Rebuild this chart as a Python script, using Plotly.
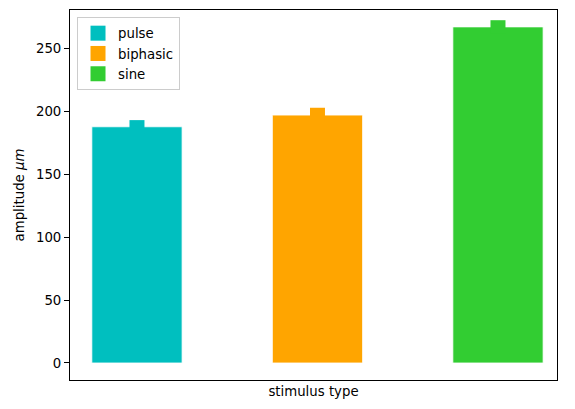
import plotly.graph_objects as go

# values
stimuli = ["pulse", "biphasic", "sine"]
positions = [0, 1, 2]
amplitude = [187.5, 196.8, 266.8]
amplitude_err = [5.3, 5.8, 5.3]
colors = ["#00BFBF", "#FFA500", "#32CD32"]

fig = go.Figure()

for name, xpos, amp, err, col in zip(stimuli, positions, amplitude, amplitude_err, colors):
    # bar with a thick same-coloured error bar on top
    fig.add_trace(
        go.Bar(
            x=[xpos], y=[amp], width=0.5, name=name, showlegend=False,
            marker=dict(color=col, line=dict(color="white", width=0.8)),
            error_y=dict(type="data", array=[err], thickness=15, width=0, color=col),
        )
    )
    # square legend marker
    fig.add_trace(
        go.Scatter(
            x=[None], y=[None], mode="markers", name=name,
            marker=dict(symbol="square", size=15, color=col),
        )
    )

fs = 13.3
axis_style = dict(
    showline=True, linecolor="black", linewidth=1, mirror=True,
    showgrid=False, zeroline=False, ticks="outside", ticklen=5,
    tickcolor="black", tickfont=dict(family="DejaVu Sans", size=fs, color="black"),
)

# page body has an 8px margin, so the figure is sized/offset to compensate
fig.update_layout(
    width=567, height=401,
    margin=dict(l=62, r=18, t=2, b=29),
    plot_bgcolor="white", paper_bgcolor="white",
    font=dict(family="DejaVu Sans", size=fs, color="black"),
    xaxis=dict(axis_style, range=[-0.371, 2.327], showticklabels=False, ticks="",
               title=dict(text="stimulus type", standoff=6, font=dict(size=fs))),
    yaxis=dict(axis_style, range=[-13.5, 280.2], tickvals=[0, 50, 100, 150, 200, 250],
               title=dict(text="amplitude <i>μm</i>", standoff=8, font=dict(size=fs))),
    legend=dict(x=0.0144, y=0.981, xanchor="left", yanchor="top",
                bordercolor="#cccccc", borderwidth=1, bgcolor="white",
                font=dict(size=fs), tracegroupgap=0),
    showlegend=True,
)

fig.write_html("out.html")
